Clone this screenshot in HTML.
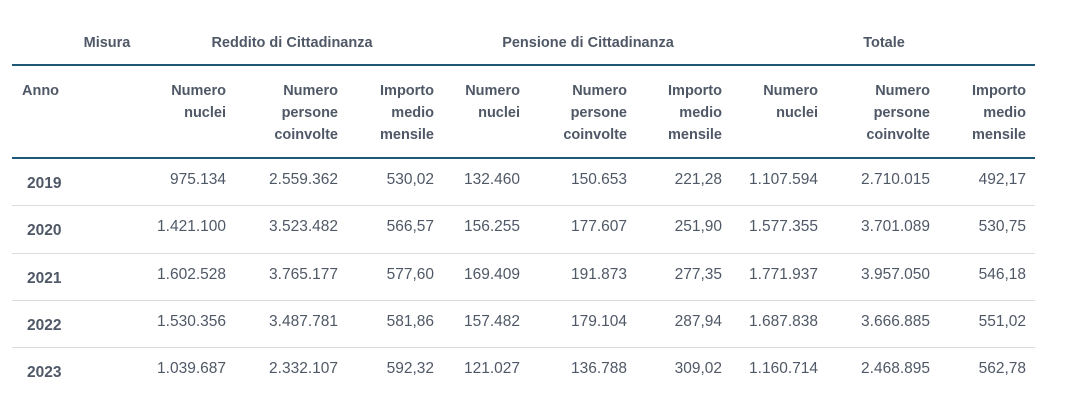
<!DOCTYPE html>
<html><head><meta charset="utf-8"><style>
body{margin:0;width:1081px;height:414px;background:#fff;font-family:"Liberation Sans",sans-serif;color:#4f5866;position:relative;overflow:hidden}
.t{position:absolute;white-space:nowrap}
.h{font-weight:bold;font-size:14.5px;line-height:22px}
.v{font-size:15.5px;text-align:right}
.y{font-weight:bold;font-size:15.5px}
.line{position:absolute;left:12px;width:1023px}
</style></head><body>
<div id="tbl"></div>
<script>
const years=["2019","2020","2021","2022","2023"];
const rcNuclei=["975.134","1.421.100","1.602.528","1.530.356","1.039.687"];
const rcPersone=["2.559.362","3.523.482","3.765.177","3.487.781","2.332.107"];
const rcImporto=["530,02","566,57","577,60","581,86","592,32"];
const pcNuclei=["132.460","156.255","169.409","157.482","121.027"];
const pcPersone=["150.653","177.607","191.873","179.104","136.788"];
const pcImporto=["221,28","251,90","277,35","287,94","309,02"];
const totNuclei=["1.107.594","1.577.355","1.771.937","1.687.838","1.160.714"];
const totPersone=["2.710.015","3.701.089","3.957.050","3.666.885","2.468.895"];
const totImporto=["492,17","530,75","546,18","551,02","562,78"];
const cols=[rcNuclei,rcPersone,rcImporto,pcNuclei,pcPersone,pcImporto,totNuclei,totPersone,totImporto];
const colNames=["rc-nuclei","rc-persone","rc-importo","pc-nuclei","pc-persone","pc-importo","tot-nuclei","tot-persone","tot-importo"];
const rights=[226,338,434,520,627,722,818,930,1026];
const subHeads=["Numero<br>nuclei","Numero<br>persone<br>coinvolte","Importo<br>medio<br>mensile"];
const groups=[["Misura",107],["Reddito di Cittadinanza",292],["Pensione di Cittadinanza",588],["Totale",884]];
const root=document.getElementById('tbl');
function add(cls,html,style){const d=document.createElement('div');d.className=cls;d.innerHTML=html;d.style.cssText=style;root.appendChild(d);return d;}
groups.forEach(g=>{const d=add('t h',g[0],`left:${g[1]-150}px;width:300px;text-align:center;top:32px`);

});
let d=add('line','',`top:64px;height:2px;background:#1d5878`);


d=add('t h','Anno','left:22px;top:80px');


rights.forEach((r,i)=>{const e=add('t h',subHeads[i%3],`left:${r-150}px;width:150px;text-align:right;top:80px`);

});
d=add('line','',`top:157px;height:2px;background:#1d5878`);


years.forEach((y,r)=>{const top=159+r*47.3;
if(r>0){const s=add('line','',`top:${top-1}px;height:1px;background:#dcdcdc`);

}
const e=add('t y',y,`left:27px;top:${top+16}px`);


cols.forEach((c,i)=>{const v=add('t v',c[r],`left:${rights[i]-150}px;width:150px;top:${top+12}px`);

});});
</script>
</body></html>
